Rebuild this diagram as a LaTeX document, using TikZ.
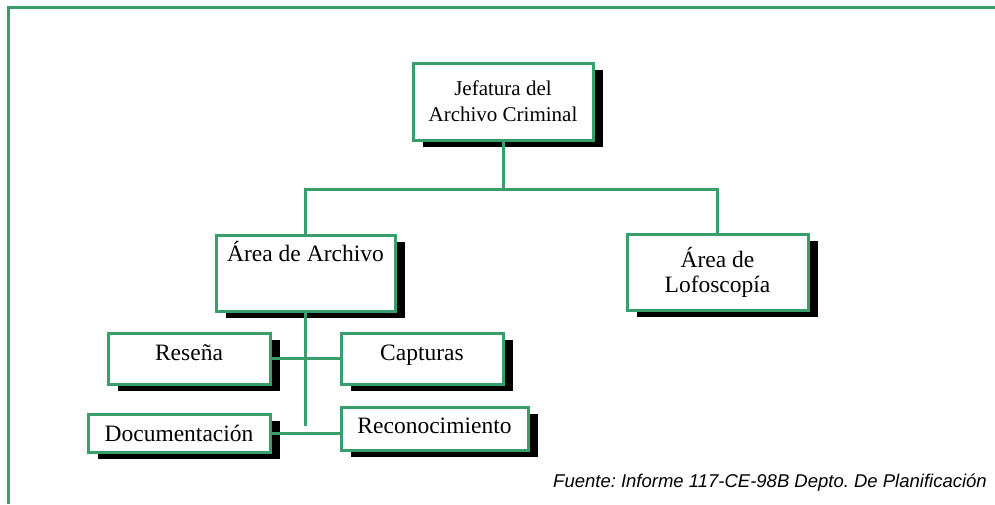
\documentclass[tikz,border=0pt]{standalone}
\usepackage{fontspec}
\setmainfont{Liberation Serif}
\newfontfamily\arialfont{Liberation Sans}
\usepackage{xcolor}
\usetikzlibrary{shadows}
\definecolor{marco}{RGB}{58,158,108}
\frenchspacing

\begin{document}
\begin{tikzpicture}[x=1pt, y=-1pt,
  caja/.style={rectangle, draw=marco, line width=3pt, fill=white, align=center,
    inner sep=2pt, font=\fontsize{23.5}{25}\selectfont,
    drop shadow={shadow xshift=10pt, shadow yshift=-7pt, fill=black, opacity=1}},
  linea/.style={draw=marco, line width=3pt}]
\useasboundingbox (0,0) rectangle (995,504);
\draw[linea] (8,504) -- (8,7) -- (995,7);
% jefatura y areas
\node[caja, minimum width=180, minimum height=77,
  font=\fontsize{21}{26}\selectfont] (jefatura) at (503,101.5)
  {Jefatura del\\ Archivo Criminal};
\node[caja, minimum width=179, text height=24pt, text depth=48pt]
  (archivo) at (305.5,273) {Área de Archivo};
\node[caja, minimum width=181, minimum height=76] (lofo) at (717.5,272)
  {Área de\\ Lofoscopía};
% secciones del archivo
\node[caja, minimum width=162, text height=25pt, text depth=22pt] (resena) at (189,358.5) {Reseña};
\node[caja, minimum width=162, text height=25pt, text depth=22pt] (capturas) at (422,358.5) {Capturas};
\node[caja, minimum width=182, minimum height=38] (docu) at (179,433) {Documentación};
\node[caja, minimum width=187, text height=24pt, text depth=15pt] (recon) at (434.5,428.5) {Reconocimiento};
% lineas
\coordinate (bus) at (503,189);
\coordinate (tronco) at (305.5,426);
\draw[linea] (jefatura.south) -- (bus);
\draw[linea] (archivo.north) |- (bus) -| (lofo.north);
\draw[linea] (archivo.south) -- (tronco);
\draw[linea] (resena.east) -- (capturas.west);
\draw[linea] (docu.east) -- (docu.east -| recon.west);
\node[anchor=base east, inner sep=0, font=\arialfont\itshape\fontsize{18.5}{22}\selectfont]
  (fuente) at (987,487) {Fuente: Informe 117-CE-98B Depto. De Planificación};
\end{tikzpicture}
\end{document}
